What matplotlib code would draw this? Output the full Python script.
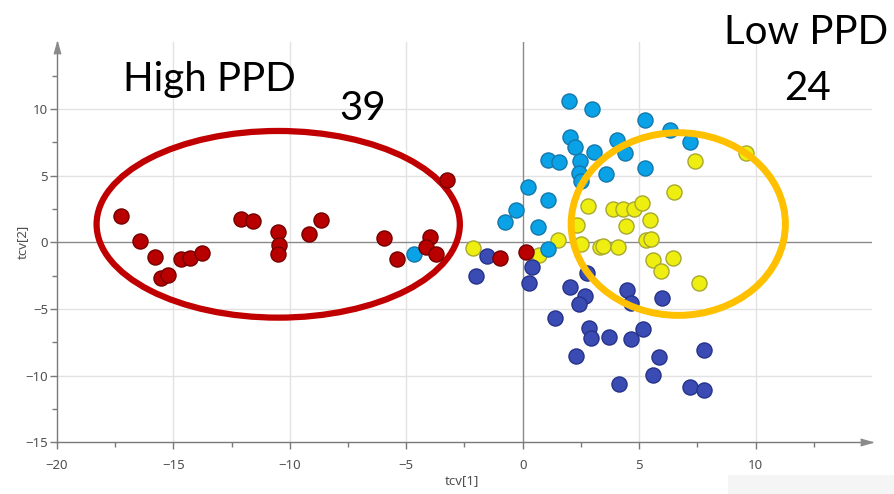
import matplotlib
matplotlib.use("Agg")
import matplotlib.pyplot as plt
from matplotlib.patches import Ellipse, Rectangle
import numpy as np

# ---- data ----
red_x = [-17.25, -16.44, -15.80, -15.52, -15.23, -14.69, -14.29, -13.79, -12.09, -11.57,
         -10.50, -10.45, -10.52, -9.19, -8.66, -5.94, -5.40, -3.97, -4.16, -3.72, -3.26,
         -0.97, 0.14]
red_y = [1.97, 0.12, -1.13, -2.70, -2.48, -1.28, -1.15, -0.83, 1.77, 1.57,
         0.80, -0.20, -0.88, 0.62, 1.67, 0.30, -1.23, 0.42, -0.38, -0.88, 4.67,
         -1.20, -0.75]

lblue_x = [1.97, 2.96, 2.03, 2.26, 3.06, 4.03, 1.08, 1.57, 2.46, 2.43, 2.51, 3.57,
           0.23, 1.07, -0.29, -0.76, 0.64, 5.24, 6.31, 7.17, 4.38, 5.24, 1.07, -4.69]
lblue_y = [10.58, 10.02, 7.88, 7.13, 6.77, 7.67, 6.17, 6.00, 6.12, 5.18, 4.62, 5.12,
           4.12, 3.17, 2.42, 1.55, 1.12, 9.17, 8.42, 7.55, 6.72, 5.60, -0.53, -0.88]

yellow_x = [9.60, 7.38, 6.50, 2.79, 3.88, 4.31, 4.77, 5.13, 5.46, 4.43, 2.31, 2.49,
            3.31, 3.46, 4.10, 5.31, 5.53, 1.50, -2.14, 0.72, 5.60, 6.47, 5.93, 7.57]
yellow_y = [6.72, 6.10, 3.75, 2.72, 2.47, 2.47, 2.47, 2.92, 1.70, 1.22, 1.30, -0.15,
            -0.33, -0.28, -0.38, 0.15, 0.22, 0.15, -0.40, -0.95, -1.30, -1.20, -2.15, -3.08]

dblue_x = [-1.54, -2.02, 0.39, 0.27, 2.74, 2.03, 2.67, 2.40, 1.38, 2.84, 2.93, 3.70,
           2.28, 4.15, 4.48, 4.67, 6.00, 4.64, 5.17, 5.84, 5.60, 7.77, 7.20, 7.77]
dblue_y = [-1.03, -2.53, -1.88, -3.08, -2.33, -3.38, -4.03, -4.63, -5.70, -6.45, -7.16, -7.13,
           -8.53, -10.63, -3.58, -4.53, -4.15, -7.25, -6.48, -8.63, -9.95, -8.08, -10.88, -11.08]

x_ticks = [-20, -15, -10, -5, 0, 5, 10]
y_ticks = [-15, -10, -5, 0, 5, 10]
x_label = "tcv[1]"
y_label = "tcv[2]"
notes = ["High PPD", "39", "Low PPD", "24"]

# ---- figure ----
W, H = 894, 494
fig = plt.figure(figsize=(W / 100, H / 100), dpi=100)
ax = fig.add_axes([57 / W, 1 - 442.3 / H, (872 - 57) / W, (442.3 - 42.3) / H])
ax.set_xlim(-20, 15)
ax.set_ylim(-15, 15)
ax.patch.set_alpha(0)

axis_col = "#7a7a7a"
txt_col = "#505050"
for s in ["top", "right"]:
    ax.spines[s].set_visible(False)
for s in ["left", "bottom"]:
    ax.spines[s].set_color(axis_col)
    ax.spines[s].set_linewidth(1.0)

ax.set_xticks(x_ticks)
ax.set_yticks(y_ticks)
ax.set_xticks(np.arange(-17.5, 15, 5), minor=True)
ax.set_yticks(np.arange(-12.5, 15, 5), minor=True)
ax.tick_params(which="major", length=5, width=1, color=axis_col, labelcolor=txt_col,
               labelsize=9.5)
ax.tick_params(axis="x", which="major", pad=7)
ax.tick_params(axis="y", which="major", pad=1.5)
ax.tick_params(which="minor", length=3.5, width=1, color=axis_col)
for lab in ax.get_xticklabels() + ax.get_yticklabels():
    lab.set_fontfamily("Noto Sans")

# grid lines
for xv in x_ticks:
    if xv == 0:
        ax.axvline(xv, color="#8a8a8a", lw=1.0, zorder=1.2)
    elif xv != -20:
        ax.axvline(xv, color="#e2e2e2", lw=1.0, zorder=0.5)
for yv in y_ticks:
    if yv == 0:
        ax.axhline(yv, color="#8a8a8a", lw=1.0, zorder=1.2)
    elif yv != -15:
        ax.axhline(yv, color="#e2e2e2", lw=1.0, zorder=0.5)

# arrow heads
ax.plot([1], [0], transform=ax.transAxes, clip_on=False, marker=[(-1, -0.28), (0, 0), (-1, 0.28)],
        markersize=17, color="#8a8a8a", mec="#8a8a8a", ls="none", zorder=5)
ax.plot([0], [1], transform=ax.transAxes, clip_on=False, marker=[(-0.28, -1), (0, 0), (0.28, -1)],
        markersize=17, color="#8a8a8a", mec="#8a8a8a", ls="none", zorder=5)

ax.set_xlabel(x_label, fontsize=9.5, color=txt_col, family="Noto Sans", va="center")
ax.set_ylabel(y_label, fontsize=9.5, color=txt_col, family="Noto Sans", va="center")
ax.xaxis.set_label_coords((462 - 57) / 815, -(481 - 442.3) / 400)
ax.yaxis.set_label_coords((22 - 57) / 815, (442.3 - 242) / 400)

# white text boxes hiding gridlines
fig.patches.append(Rectangle((100 / W, 1 - 118 / H), 220 / W, 80 / H, transform=fig.transFigure,
                             facecolor="white", edgecolor="none", zorder=1.5))
fig.patches.append(Rectangle((703 / W, 1 - 128 / H), 191 / W, 128 / H, transform=fig.transFigure,
                             facecolor="white", edgecolor="none", zorder=1.5))
ax.set_zorder(2)
fig.patches.append(Rectangle((728 / W, 0), 166 / W, 19 / H, transform=fig.transFigure,
                             facecolor="#f5f5f5", edgecolor="none", zorder=0))

# red ellipse (below points)
ax.add_patch(Ellipse((-10.5, 1.35), 15.6, 14.0, fill=False, edgecolor="#c00000", lw=4.5, zorder=2))

ms = 118
ax.scatter(yellow_x, yellow_y, s=ms, c="#eeee10", edgecolors="#a8a830", linewidths=1, zorder=3)
ax.scatter(dblue_x, dblue_y, s=ms, c="#3a4cb4", edgecolors="#27338a", linewidths=1, zorder=3.1)
ax.scatter(lblue_x, lblue_y, s=ms, c="#0aa2e6", edgecolors="#1478aa", linewidths=1, zorder=3.2)
ax.scatter(red_x, red_y, s=ms, c="#b80000", edgecolors="#740000", linewidths=1, zorder=3.3)

# yellow ellipse (above points)
ax.add_patch(Ellipse((6.68, 1.37), 9.2, 13.7, fill=False, edgecolor="#ffc000", lw=5, zorder=4))

# annotations
tf = "Lato"
fig.text(209 / W, 1 - 80 / H, notes[0], fontsize=29, family=tf, ha="center", va="center", zorder=6)
fig.text(363 / W, 1 - 108 / H, notes[1], fontsize=29, family=tf, ha="center", va="center", zorder=6)
fig.text(806 / W, 1 - 33 / H, notes[2], fontsize=29, family=tf, ha="center", va="center", zorder=6)
fig.text(808 / W, 1 - 88 / H, notes[3], fontsize=29, family=tf, ha="center", va="center", zorder=6)

fig.savefig("out.png", dpi=100)
